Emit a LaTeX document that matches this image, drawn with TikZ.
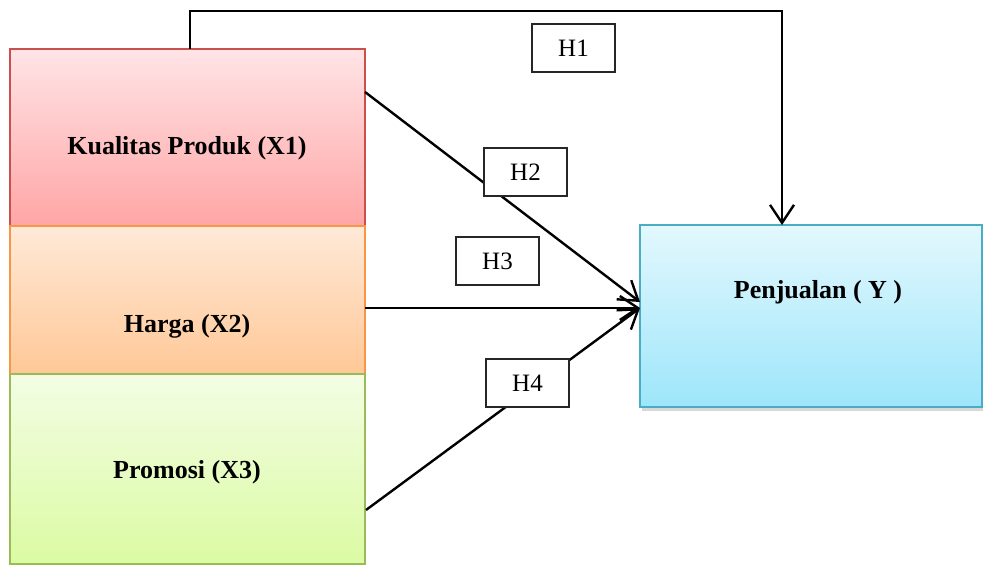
\documentclass[tikz,border=0pt]{standalone}
\usepackage{fontspec}
\setmainfont{Liberation Serif}
\usetikzlibrary{arrows.meta,shadows}
\definecolor{kTop}{HTML}{FFE4E6}
\definecolor{kBot}{HTML}{FFA5A5}
\definecolor{kLine}{HTML}{C9504D}
\definecolor{hTop}{HTML}{FFE9D8}
\definecolor{hBot}{HTML}{FFC897}
\definecolor{hLine}{HTML}{F79646}
\definecolor{pTop}{HTML}{F3FDE4}
\definecolor{pBot}{HTML}{DBFBA3}
\definecolor{pLine}{HTML}{9BBB59}
\definecolor{yTop}{HTML}{E3F8FE}
\definecolor{yBot}{HTML}{9DE6FA}
\definecolor{yLine}{HTML}{4BACC6}
\tikzset{
  varbox/.style={rectangle, minimum width=355pt, inner sep=0pt, outer sep=0pt, line width=1.4pt, shading=axis},
  boldtxt/.style={font=\fontsize{26}{30}\selectfont\bfseries, anchor=base, inner sep=0pt},
  hbox/.style={draw=black!85, fill=white, line width=1.1pt, minimum width=83pt, minimum height=48pt, inner sep=0pt, font=\fontsize{25}{30}\selectfont},
  conn/.style={line width=2.4pt, draw=black},
  arr/.style={conn, -{Straight Barb[length=18pt,width=24pt,line width=2.4pt]}}
}
\begin{document}
\begin{tikzpicture}[x=1pt,y=-1pt]
\useasboundingbox (0,0) rectangle (983,565);
% left boxes
\node[varbox, minimum height=178pt, top color=kTop, bottom color=kBot, draw=kLine,
      drop shadow={shadow xshift=-1pt, shadow yshift=-2pt, opacity=0.2}] (K) at (187.5,138) {};
\node[varbox, minimum height=148pt, top color=hTop, bottom color=hBot, draw=hLine,
      drop shadow={shadow xshift=-1pt, shadow yshift=-2pt, opacity=0.2}] (H) at (187.5,300) {};
\node[varbox, minimum height=190pt, top color=pTop, bottom color=pBot, draw=pLine] (P) at (187.5,469) {};
% right box
\node[varbox, minimum width=342pt, minimum height=182pt, top color=yTop, bottom color=yBot, draw=yLine,
      drop shadow={shadow xshift=2pt, shadow yshift=-4pt, opacity=0.3}] (Y) at (811,316) {};
% texts
\node[boldtxt] (tK) at (187,154) {Kualitas Produk (X1)};
\node[boldtxt] (tH) at (187,332) {Harga (X2)};
\node[boldtxt] (tP) at (187,478) {Promosi (X3)};
\node[boldtxt] (tY) at (818,298) {Penjualan ( Y )};
% connector points
\coordinate (a1) at (190,49);
\coordinate (c1) at (782,11);
\coordinate (e1) at (782,225);
\coordinate (a2) at (365,92);
\coordinate (e2) at (640,302);
\coordinate (a3) at (365,308);
\coordinate (e3) at (640,308);
\coordinate (a4) at (366,510);
\coordinate (e4) at (640,308);
% connectors
\draw[arr] (a1) |- (c1) -- (e1);
\draw[arr] (a2) -- (e2);
\draw[arr] (a3) -- (e3);
\draw[arr] (a4) -- (e4);
% hypothesis labels
\node[hbox] (H1) at (573.5,48) {H1};
\node[hbox] (H2) at (525.5,172) {H2};
\node[hbox] (H3) at (497.5,261) {H3};
\node[hbox] (H4) at (527.5,383) {H4};
\end{tikzpicture}
\end{document}
